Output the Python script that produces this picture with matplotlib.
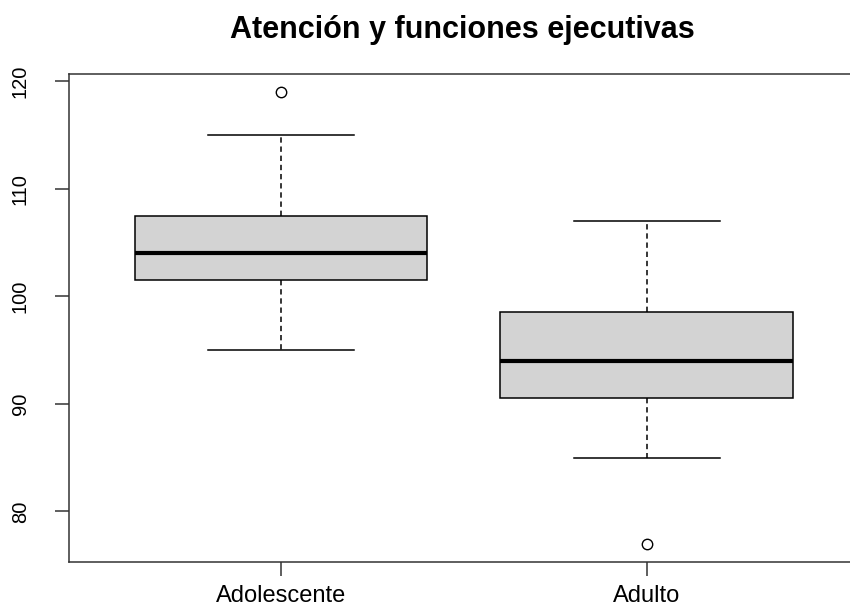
import matplotlib
matplotlib.use("Agg")
import matplotlib.pyplot as plt

categories = ["Adolescente", "Adulto"]
whisker_low = [95, 85]
q1 = [101.5, 90.5]
median = [104, 94]
q3 = [107.5, 98.5]
whisker_high = [115, 107]
outliers = [[119], [77]]
y_ticks = [80, 90, 100, 110, 120]

plt.rcParams['font.family'] = ['Liberation Sans', 'DejaVu Sans']

fig = plt.figure(figsize=(8.5, 6.11), dpi=100)
ax = fig.add_axes([0.0808, 0.0807, 0.9298, 0.7982])

stats = []
for i, name in enumerate(categories):
    stats.append(dict(label=name, whislo=whisker_low[i], q1=q1[i], med=median[i],
                      q3=q3[i], whishi=whisker_high[i], fliers=outliers[i]))

ax.bxp(stats, positions=[1, 2], widths=0.8, capwidths=0.4, patch_artist=True,
       boxprops=dict(facecolor='#D3D3D3', edgecolor='black', linewidth=1.1),
       medianprops=dict(color='black', linewidth=3),
       whiskerprops=dict(color='black', linewidth=1.1, linestyle=(0, (3.5, 2.5))),
       capprops=dict(color='black', linewidth=1.1),
       flierprops=dict(marker='o', markerfacecolor='none', markeredgecolor='black',
                       markersize=7.5, markeredgewidth=1))

ax.set_xlim(0.42, 2.58)
ax.set_ylim(75.32, 120.68)
ax.set_yticks(y_ticks)
ax.set_yticklabels([str(v) for v in y_ticks], rotation=90, va='center', fontsize=14.5)
ax.set_xticks([1, 2])
ax.set_xticklabels(categories, fontsize=17)
ax.tick_params(axis='both', direction='out', length=10, width=1.1, color='#333333')
ax.tick_params(axis='y', pad=18)
ax.tick_params(axis='x', pad=7)
for s in ax.spines.values():
    s.set_linewidth(1.1)
    s.set_color('#333333')

fig.text(0.5445, 0.951, "Atención y funciones ejecutivas", ha='center', va='center',
         fontsize=22, fontweight='bold')

fig.savefig("out.png", dpi=100)
